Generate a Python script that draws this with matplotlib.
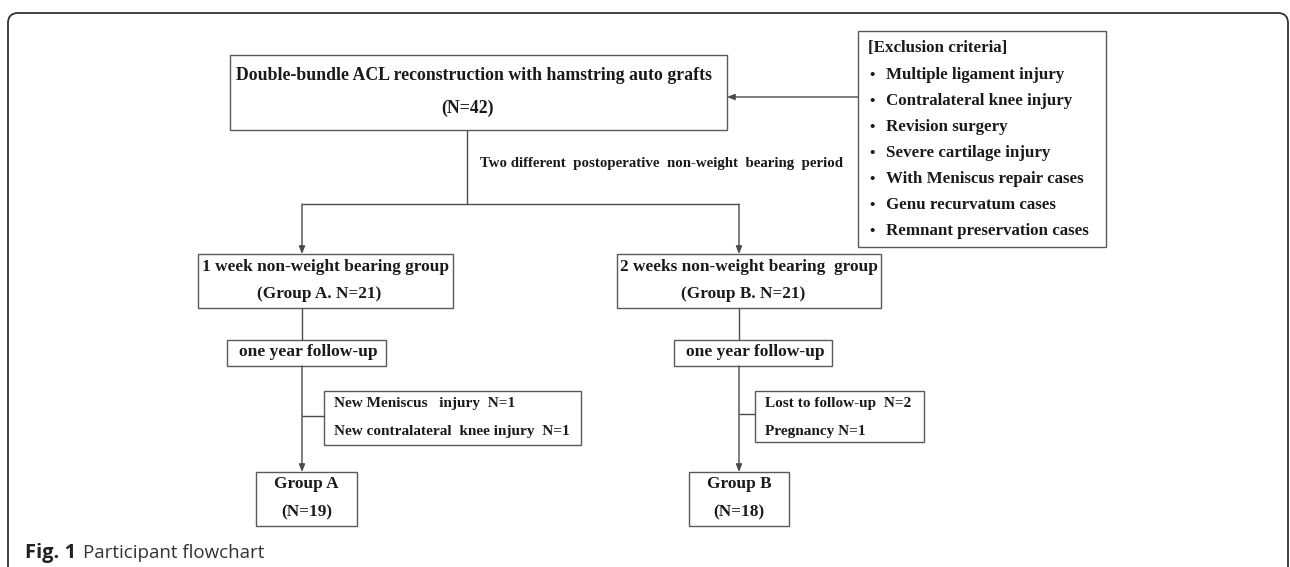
import matplotlib.pyplot as plt
from matplotlib.patches import Rectangle, FancyBboxPatch

# chart content
total_n = 42
group_names = ["Group A", "Group B"]
nwb_labels = ["1 week non-weight bearing group", "2 weeks non-weight bearing  group"]
group_start_n = [21, 21]
group_final_n = [19, 18]
exclusion_criteria = [
    "Multiple ligament injury",
    "Contralateral knee injury",
    "Revision surgery",
    "Severe cartilage injury",
    "With Meniscus repair cases",
    "Genu recurvatum cases",
    "Remnant preservation cases",
]
dropouts_a = ["New Meniscus   injury  N=1", "New contralateral  knee injury  N=1"]
dropouts_b = ["Lost to follow-up  N=2", "Pregnancy N=1"]
split_label = "Two different  postoperative  non-weight  bearing  period"

LINE = "#4a4a4a"
SERIF = "Liberation Serif"


def box(ax, x0, y0, x1, y1):
    ax.add_patch(Rectangle((x0, y0), x1 - x0, y1 - y0, fill=False,
                           edgecolor="#5a5a5a", linewidth=1.0))


def txt(ax, x, y, s, ha="center", size=12.4):
    ax.text(x, y, s, ha=ha, va="center", fontsize=size, fontweight="bold",
            family=SERIF, color="#1a1a1a")


def line(ax, xs, ys):
    ax.plot(xs, ys, color=LINE, linewidth=1.0, solid_capstyle="butt")


def arrow(ax, x0, y0, x1, y1):
    ax.annotate("", xy=(x1, y1), xytext=(x0, y0),
                arrowprops=dict(arrowstyle="-|>,head_length=0.45,head_width=0.18",
                                color=LINE, linewidth=1.0, shrinkA=0, shrinkB=0))


fig = plt.figure(figsize=(12.9, 5.67), dpi=100)
ax = fig.add_axes([0, 0, 1, 1])
ax.set_xlim(0, 1290)
ax.set_ylim(567, 0)
ax.axis("off")

# outer card frame
ax.add_patch(FancyBboxPatch((8, 13), 1280, 600, boxstyle="round,pad=0,rounding_size=10",
                            fill=False, edgecolor="#333333", linewidth=1.3))

# top box
box(ax, 230, 55, 727, 130)
txt(ax, 474, 76, "Double-bundle ACL reconstruction with hamstring auto grafts", size=12.8)
txt(ax, 467, 108, f"(N={total_n})", size=12.8)

# exclusion criteria box
box(ax, 858, 31, 1106, 247)
txt(ax, 868, 48, "[Exclusion criteria]", ha="left", size=12.2)
for i, item in enumerate(exclusion_criteria):
    y = 75 + i * 26.0
    txt(ax, 869, y, "•", ha="left", size=11)
    txt(ax, 886, y, item, ha="left", size=12.2)
arrow(ax, 858, 97, 727, 97)

# split
line(ax, [467, 467], [130, 204])
txt(ax, 480, 163, split_label, ha="left", size=10.7)
line(ax, [302, 739], [204, 204])

cols = [
    dict(cx=302, box=(198, 453), fu=(227, 386), dr=(324, 581), dy=(391, 445), cy=416,
         drop=dropouts_a, gb=(256, 357)),
    dict(cx=739, box=(617, 881), fu=(674, 832), dr=(755, 924), dy=(391, 442), cy=414,
         drop=dropouts_b, gb=(689, 789)),
]

for k, c in enumerate(cols):
    cx = c["cx"]
    arrow(ax, cx, 204, cx, 254)
    bx0, bx1 = c["box"]
    box(ax, bx0, 254, bx1, 308)
    txt(ax, (bx0 + bx1) / 2, 267, nwb_labels[k])
    txt(ax, (bx0 + bx1) / 2 - 6, 294,
        f"(Group {group_names[k][-1]}. N={group_start_n[k]})")

    line(ax, [cx, cx], [308, 340])
    fx0, fx1 = c["fu"]
    box(ax, fx0, 340, fx1, 366)
    txt(ax, (fx0 + fx1) / 2 + 2, 352, "one year follow-up", size=12.6)

    arrow(ax, cx, 366, cx, 472)
    dx0, dx1 = c["dr"]
    dy0, dy1 = c["dy"]
    box(ax, dx0, dy0, dx1, dy1)
    line(ax, [cx, dx0], [c["cy"], c["cy"]])
    txt(ax, dx0 + 10, dy0 + 13, c["drop"][0], ha="left", size=11)
    txt(ax, dx0 + 10, dy0 + 40, c["drop"][1], ha="left", size=11)

    gx0, gx1 = c["gb"]
    box(ax, gx0, 472, gx1, 526)
    txt(ax, (gx0 + gx1) / 2, 484, group_names[k])
    txt(ax, (gx0 + gx1) / 2, 512, f"(N={group_final_n[k]})")

# caption
ax.text(25, 553, "Fig. 1", ha="left", va="center", fontsize=14.5, fontweight="bold",
        family="Open Sans", color="#222222")
ax.text(83, 553, "Participant flowchart", ha="left", va="center", fontsize=13.5,
        family="Open Sans", color="#333333")

fig.savefig("out.png", dpi=100, facecolor="white")
